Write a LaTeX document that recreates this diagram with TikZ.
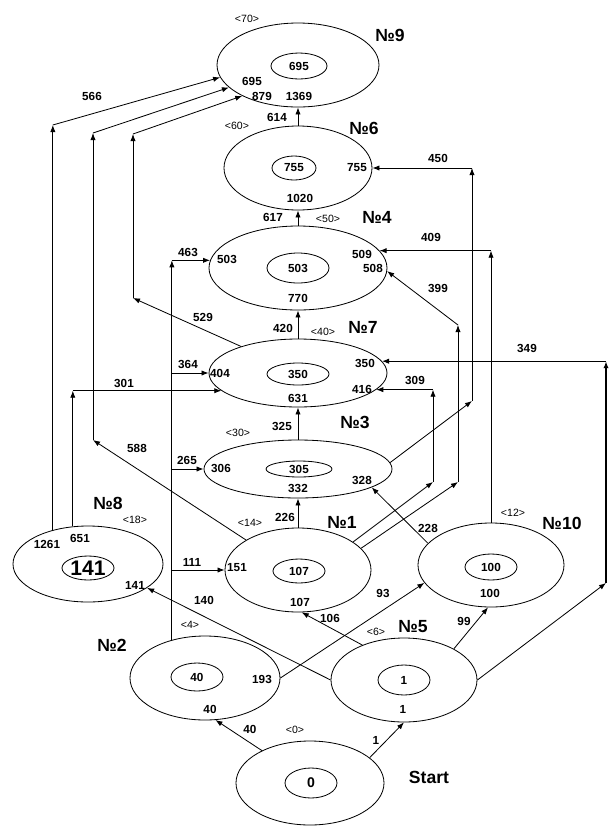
\documentclass[tikz,border=0pt]{standalone}
\usepackage{fontspec}
\setmainfont{Liberation Sans}
\usetikzlibrary{shapes.geometric, arrows.meta}
\begin{document}
\begin{tikzpicture}[x=0.03cm, y=-0.03cm,
	state/.style={shape=ellipse, draw, line width=0.7pt, inner sep=0pt},
	core/.style={shape=ellipse, draw, line width=0.7pt, inner sep=0pt, font=\bfseries\fontsize{10}{12}\selectfont},
	num/.style={inner sep=0pt, font=\bfseries\fontsize{10}{12}\selectfont},
	tag/.style={inner sep=0pt, font=\fontsize{9}{11}\selectfont},
	title/.style={inner sep=0pt, font=\bfseries\fontsize{15}{17}\selectfont},
	link/.style={line width=0.7pt, -{Latex[length=6pt, width=4.5pt]}}]
	\useasboundingbox (0,0) rectangle (610,827);
	\node[state, minimum width=4.86cm, minimum height=2.52cm] (s9) at (298,65){};
	\node[core, minimum width=1.68cm, minimum height=0.78cm] (c9) at (299,66){695};
	\node[state, minimum width=4.44cm, minimum height=2.52cm] (s6) at (298,168){};
	\node[core, minimum width=1.32cm, minimum height=0.72cm] (c6) at (294,168){755};
	\node[state, minimum width=5.34cm, minimum height=2.52cm] (s4) at (298,268){};
	\node[core, minimum width=1.86cm, minimum height=0.9cm] (c4) at (298,268){503};
	\node[state, minimum width=5.34cm, minimum height=2.04cm] (s7) at (298,373){};
	\node[core, minimum width=1.86cm, minimum height=0.66cm] (c7) at (298,374){350};
	\node[state, minimum width=5.64cm, minimum height=1.74cm] (s3) at (298,469){};
	\node[core, minimum width=1.98cm, minimum height=0.48cm] (c3) at (299,469){305};
	\node[state, minimum width=4.38cm, minimum height=2.52cm] (s1) at (298,570){};
	\node[core, minimum width=1.56cm, minimum height=0.72cm] (c1) at (299,571){107};
	\node[state, minimum width=4.5cm, minimum height=2.28cm] (s8) at (88,564){};
	\node[core, minimum width=1.56cm, minimum height=0.72cm, font=\bfseries\fontsize{18}{20}\selectfont] (c8) at (88,568){141};
	\node[state, minimum width=4.38cm, minimum height=2.52cm] (s10) at (491,565){};
	\node[core, minimum width=1.56cm, minimum height=0.78cm] (c10) at (491,567){100};
	\node[state, minimum width=4.5cm, minimum height=2.52cm] (s2) at (205,678){};
	\node[core, minimum width=1.56cm, minimum height=0.84cm] (c2) at (197,677){40};
	\node[state, minimum width=4.38cm, minimum height=2.52cm] (s5) at (404,680){};
	\node[core, minimum width=1.56cm, minimum height=0.9cm] (c5) at (404,680){1};
	\node[state, minimum width=4.44cm, minimum height=2.52cm] (s0) at (310,783){};
	\node[core, minimum width=1.56cm, minimum height=0.9cm, font=\bfseries\fontsize{12}{14}\selectfont] (c0) at (311,783){0};
	\node[title] (n9) at (390,35){№9};
	\node[title] (n6) at (364,128){№6};
	\node[title] (n4) at (377,217){№4};
	\node[title] (n7) at (363,327){№7};
	\node[title] (n3) at (355,422){№3};
	\node[title] (n1) at (342,522){№1};
	\node[title] (n8) at (108,503){№8};
	\node[title] (n10) at (562,523){№10};
	\node[title] (n2) at (112,645){№2};
	\node[title] (n5) at (413,627){№5};
	\node[title] (n0) at (429,777){Start};
	\node[tag] (t9) at (247,19){<70>};
	\node[tag] (t6) at (237,126){<60>};
	\node[tag] (t4) at (328,219){<50>};
	\node[tag] (t7) at (323,332){<40>};
	\node[tag] (t3) at (238,433){<30>};
	\node[tag] (t1) at (250,523){<14>};
	\node[tag] (t8) at (135,520){<18>};
	\node[tag] (t10) at (513,513){<12>};
	\node[tag] (t2) at (190,625){<4>};
	\node[tag] (t5) at (376,632){<6>};
	\node[tag] (t0) at (295,730){<0>};
	\node[num] (l9a) at (252,81){695};
	\node[num] (l9b) at (262,96){879};
	\node[num] (l9c) at (299,96){1369};
	\node[num] (l6a) at (357,168){755};
	\node[num] (l6b) at (300,198){1020};
	\node[num] (l4a) at (227,259){503};
	\node[num] (l4b) at (362,254){509};
	\node[num] (l4c) at (373,268){508};
	\node[num] (l4d) at (298,298){770};
	\node[num] (l7a) at (220,373){404};
	\node[num] (l7b) at (365,363){350};
	\node[num] (l7c) at (362,389){416};
	\node[num] (l7d) at (298,398){631};
	\node[num] (l3a) at (221,468){306};
	\node[num] (l3b) at (362,480){328};
	\node[num] (l3c) at (298,488){332};
	\node[num] (l1a) at (237,568){151};
	\node[num] (l1b) at (300,602){107};
	\node[num] (l8a) at (47,544){1261};
	\node[num] (l8b) at (80,538){651};
	\node[num] (l8c) at (135,585){141};
	\node[num] (l10a) at (490,593){100};
	\node[num] (l2a) at (262,679){193};
	\node[num] (l2b) at (210,709){40};
	\node[num] (l5a) at (403,709){1};
	\coordinate (k566) at (53,125);
	\draw[link] (s8.136) -- (s8.136 |- k566);
	\draw[link] (s8.136 |- k566) -- (s9.189);
	\coordinate (k588a) at (93,440);
	\coordinate (k588b) at (93,133);
	\draw[link] (s1.150) -- (k588a);
	\draw[link] (k588a) -- (k588b);
	\draw[link] (k588b) -- (s9.198);
	\coordinate (k529a) at (133,298);
	\coordinate (k529b) at (133,134);
	\draw[link] (s7.155) -- (k529a);
	\draw[link] (k529a) -- (k529b);
	\draw[link] (k529b) -- (s9.209);
	\draw[link] (s8.112) -- (s8.112 |- s7.193);
	\draw[link] (s8.112 |- s7.193) -- (s7.193);
	\draw[link] (s2.131) -- (s2.131 |- s4.175);
	\draw[link] (s2.131 |- s4.175) -- (s4.175);
	\draw[link] (s2.131 |- s7.west) -- (s7.west);
	\draw[link] (s2.131 |- s3.west) -- (s3.west);
	\draw[link] (s2.131 |- s1.west) -- (s1.west);
	\draw[link] (s10.north) -- (s10.north |- s4.12);
	\draw[link] (s10.north |- s4.12) -- (s4.12);
	\coordinate (k349) at (606,583);
	\draw[link] (s5.east) -- (k349);
	\draw[link, line width=1.2pt] (k349) -- (k349 |- s7.8);
	\draw[link] (k349 |- s7.8) -- (s7.8);
	\coordinate (k450) at (472,401);
	\draw[link] (s3.4) -- (k450);
	\draw[link] (k450) -- (k450 |- s6.east);
	\draw[link] (k450 |- s6.east) -- (s6.east);
	\coordinate (k399a) at (458,482);
	\coordinate (k399b) at (458,325);
	\draw[link] (s1.19) -- (k399a);
	\draw[link] (k399a) -- (k399b);
	\draw[link] (k399b) -- (s4.358);
	\coordinate (k309) at (433,482);
	\draw[link] (s1.27) -- (k309);
	\draw[link] (k309) -- (k309 |- s7.348);
	\draw[link] (k309 |- s7.348) -- (s7.348);
	\draw[link] (s0.146) -- (s2.284);
	\draw[link] (s0.23) -- (s5.south);
	\draw[link] (s2.east) -- (s10.195);
	\draw[link] (s5.west) -- (s8.338);
	\draw[link] (s5.140) -- (s1.275);
	\draw[link] (s5.32) -- (s10.266);
	\draw[link] (s10.161) -- (s3.346);
	\draw[link] (s1.north) -- (s3.south);
	\draw[link] (s3.north) -- (s7.south);
	\draw[link] (s7.north) -- (s4.south);
	\draw[link] (s4.north) -- (s6.south);
	\draw[link] (s6.north) -- (s9.south);
	\node[num] (w566) at (92,96){566};
	\node[num] (w588) at (137,448){588};
	\node[num] (w529) at (203,317){529};
	\node[num] (w301) at (124,383){301};
	\node[num] (w463) at (188,252){463};
	\node[num] (w364) at (188,364){364};
	\node[num] (w265) at (187,460){265};
	\node[num] (w111) at (192,562){111};
	\node[num] (w140) at (204,600){140};
	\node[num] (w40) at (250,729){40};
	\node[num] (w1) at (376,740){1};
	\node[num] (w93) at (383,593){93};
	\node[num] (w106) at (330,618){106};
	\node[num] (w99) at (464,621){99};
	\node[num] (w228) at (428,528){228};
	\node[num] (w309) at (415,380){309};
	\node[num] (w399) at (438,288){399};
	\node[num] (w409) at (431,237){409};
	\node[num] (w450) at (438,158){450};
	\node[num] (w349) at (527,348){349};
	\node[num] (w226) at (285,517){226};
	\node[num] (w325) at (282,426){325};
	\node[num] (w420) at (283,328){420};
	\node[num] (w617) at (273,217){617};
	\node[num] (w614) at (277,117){614};
\end{tikzpicture}
\end{document}
